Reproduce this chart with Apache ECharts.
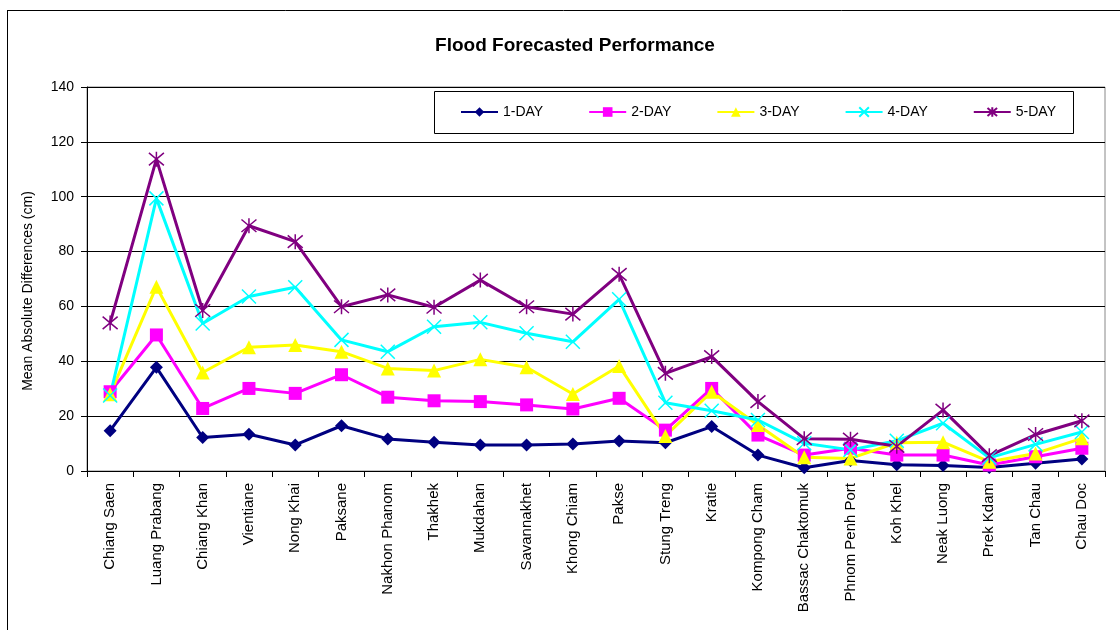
<!DOCTYPE html>
<html>
<head>
<meta charset="utf-8">
<script src="https://cdn.jsdelivr.net/npm/echarts@6/dist/echarts.min.js"></script>
<style>html,body{margin:0;padding:0;background:#fff;}#c{width:1120px;height:630px;}</style>
</head>
<body>
<div id="c"></div>
<script>
const categories = ["Chiang Saen","Luang Prabang","Chiang Khan","Vientiane","Nong Khai","Paksane","Nakhon Phanom","Thakhek","Mukdahan","Savannakhet","Khong Chiam","Pakse","Stung Treng","Kratie","Kompong Cham","Bassac Chaktomuk","Phnom Penh Port","Koh Khel","Neak Luong","Prek Kdam","Tan Chau","Chau Doc"];
const day1 = [14.7, 37.8, 12.2, 13.4, 9.5, 16.5, 11.7, 10.5, 9.5, 9.5, 9.8, 10.9, 10.3, 16.2, 5.8, 1.2, 3.8, 2.3, 2.0, 1.3, 2.8, 4.4];
const day2 = [28.9, 49.6, 22.8, 30.1, 28.3, 35.1, 26.9, 25.6, 25.3, 24.1, 22.6, 26.5, 14.9, 30.1, 13.1, 5.8, 8.3, 5.8, 5.8, 2.2, 5.2, 8.3];
const day3 = [28.0, 67.2, 35.9, 45.1, 45.9, 43.5, 37.4, 36.6, 40.7, 37.8, 28.1, 38.3, 12.8, 28.9, 16.8, 5.0, 4.6, 10.3, 10.5, 3.4, 6.4, 11.9];
const day4 = [27.5, 99.4, 53.8, 63.6, 67.0, 47.8, 43.5, 52.6, 54.2, 50.2, 47.1, 62.6, 24.9, 22.0, 18.6, 10.1, 7.7, 11.0, 17.4, 4.8, 9.7, 14.2];
const day5 = [54.0, 113.7, 58.5, 89.4, 83.6, 59.9, 64.2, 59.7, 69.6, 59.9, 57.2, 71.7, 35.6, 41.7, 25.3, 11.8, 11.6, 9.0, 22.2, 5.6, 13.3, 18.3];
const seriesNames = ["1-DAY","2-DAY","3-DAY","4-DAY","5-DAY"];
const yTicks = {min: 0, max: 140, interval: 20};
const titleText = 'Flood Forecasted Performance';
const yAxisTitle = 'Mean Absolute Differences (cm)';

const FONT = "Arial, 'Liberation Sans', sans-serif";
const colors = ["#000080", "#FF00FF", "#FFFF00", "#00FFFF", "#800080"];
const symbols = ["diamond", "rect", "triangle", "path://M0,0L10,10M10,0L0,10", "path://M0,0L10,10M10,0L0,10M5,-1L5,11"];
const sizes = [13, 13, 14, 14, 15];
const datas = [day1, day2, day3, day4, day5];

const chart = echarts.init(document.getElementById('c'), null, {renderer: 'canvas'});
const series = seriesNames.map((n, i) => ({
  name: n,
  type: 'line',
  data: datas[i],
  symbol: symbols[i],
  symbolSize: sizes[i],
  showAllSymbol: true,
  lineStyle: {color: colors[i], width: 3},
  itemStyle: i >= 3 ? {color: colors[i], borderColor: colors[i], borderWidth: 1.5} : {color: colors[i], borderWidth: 0},
  emphasis: {disabled: true},
  animation: false
}));

chart.setOption({
  backgroundColor: '#fff',
  animation: false,
  textStyle: {fontFamily: FONT},
  title: {
    text: titleText,
    left: 570, top: 31, textAlign: 'center',
    textStyle: {fontFamily: FONT, fontSize: 19, fontWeight: 'bold', color: '#000'}
  },
  legend: {
    data: seriesNames,
    left: 460, top: 105,
    itemWidth: 37, itemHeight: 12, itemGap: 45,
    textStyle: {fontFamily: FONT, fontSize: 14, color: '#000'},
    padding: 0
  },
  grid: {left: 87, right: 15, top: 87, bottom: 159, show: true, borderColor: '#888', borderWidth: 1, containLabel: false},
  xAxis: {
    type: 'category',
    data: categories,
    boundaryGap: true,
    axisLine: {lineStyle: {color: '#000', width: 1}},
    axisTick: {show: true, alignWithLabel: false, length: 6, inside: false, lineStyle: {color: '#000'}, interval: 0},
    axisLabel: {rotate: 90, interval: 0, margin: 12, fontFamily: FONT, fontSize: 15, color: '#000'},
    splitLine: {show: false}
  },
  yAxis: {
    type: 'value',
    min: yTicks.min, max: yTicks.max, interval: yTicks.interval,
    axisLine: {show: true, lineStyle: {color: '#000', width: 1}},
    axisTick: {show: true, length: 6, lineStyle: {color: '#000'}},
    axisLabel: {margin: 13, fontFamily: FONT, fontSize: 14, color: '#000'},
    splitLine: {show: true, lineStyle: {color: '#000', width: 1}}
  },
  graphic: [
    {type: 'rect', shape: {x: 434.5, y: 91.5, width: 639, height: 42}, style: {fill: 'none', stroke: '#000', lineWidth: 1}, z: 100},
    {type: 'line', shape: {x1: 7.5, y1: 10, x2: 7.5, y2: 630}, style: {stroke: '#000', lineWidth: 1}},
    {type: 'line', shape: {x1: 7, y1: 10.5, x2: 1120, y2: 10.5}, style: {stroke: '#000', lineWidth: 1}},
    {type: 'text', x: 28, y: 291, rotation: Math.PI / 2,
     style: {text: yAxisTitle, fill: '#000', font: "14px Arial, 'Liberation Sans', sans-serif", align: 'center', verticalAlign: 'middle'}}
  ],
  series: series
});
</script>
</body>
</html>
